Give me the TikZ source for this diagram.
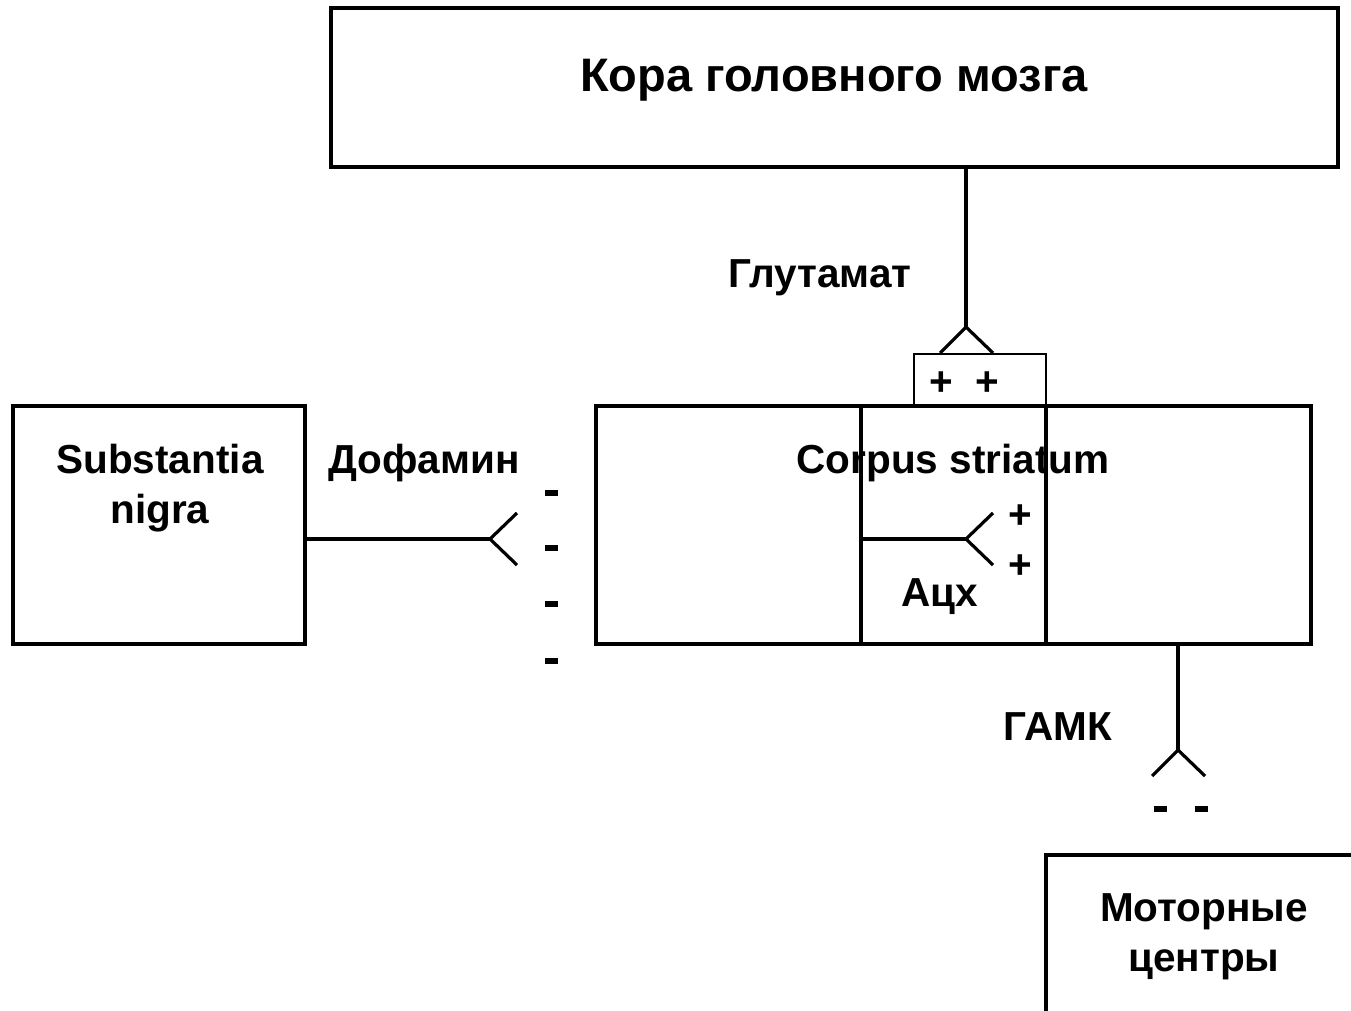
\documentclass[tikz,border=0pt]{standalone}
\usepackage{fontspec}
\setmainfont{Liberation Sans}
\usetikzlibrary{positioning}

\newcommand{\minusbar}{\rule{13pt}{6.5pt}}

\begin{document}
\begin{tikzpicture}[x=1pt,y=-1pt,
  box/.style={draw, line width=3.5pt, inner sep=0pt},
  lbl/.style={font=\bfseries\fontsize{40.5}{50}\selectfont, inner sep=0pt, align=center},
  sign/.style={font=\bfseries\fontsize{40.5}{48}\selectfont, inner sep=0pt},
  wire/.style={line width=3.2pt}]
\useasboundingbox (0,0) rectangle (1351,1010);

%% boxes
\node[box, minimum width=1007pt, minimum height=159pt] (cortex) at (834.5,87.5) {};
\node[box, minimum width=715pt, minimum height=238pt] (striatum) at (953.5,525) {};
\node[box, minimum width=292pt, minimum height=238pt] (nigra) at (159,525) {};
\node[draw, line width=2pt, inner sep=0pt, minimum width=132pt, minimum height=51pt] (recbox) at (980,379.5) {};
\draw[box] (1046,1012) -- (1046,855) -- (1353,855);
\draw[box] (861,406) -- (861,644);
\draw[box] (1046,406) -- (1046,644);

%% labels
\node[lbl, font=\bfseries\fontsize{47}{56}\selectfont] (cortexlbl) at (834,80) {Кора головного мозга};
\node[lbl] (striatumlbl) at (953,463) {Corpus striatum};
\node[lbl] (nigralbl) at (160,488) {Substantia\\nigra};
\node[lbl] (motorlbl) at (1204,937) {Моторные\\центры};
\node[lbl] (glulbl) at (820,278) {Глутамат};
\node[lbl] (dalbl) at (424,463) {Дофамин};
\node[lbl] (achlbl) at (940,597) {Ацх};
\node[lbl] (gabalbl) at (1058,727) {ГАМК};

%% synapses
\coordinate (glufork) at (966,327);
\draw[wire] (cortex.south -| glufork) -- (glufork);
\draw[wire] (glufork) ++(-26,26) -- (glufork) -- ++(27,26);

\coordinate (dafork) at (490,539);
\draw[wire] (nigra.east |- dafork) -- (dafork);
\draw[wire] (dafork) ++(27,-26) -- (dafork) -- ++(27,26);

\coordinate (achfork) at (966,539);
\draw[wire] (861,539) -- (achfork);
\draw[wire] (achfork) ++(27,-26) -- (achfork) -- ++(27,26);

\coordinate (gabafork) at (1178,750);
\draw[wire] (striatum.south -| gabafork) -- (gabafork);
\draw[wire] (gabafork) ++(-26,26) -- (gabafork) -- ++(27,26);

%% signs
\node[sign] (p1) at (941,384) {+};
\node[sign] (p2) at (987,384) {+};
\node[sign] (p3) at (1020,517) {+};
\node[sign] (p4) at (1020,567) {+};
\foreach \y [count=\i] in {493,548,604,661}
  \node[sign] (m\i) at (551,\y) {\minusbar};
\node[sign] (m5) at (1160,809) {\minusbar};
\node[sign] (m6) at (1201,809) {\minusbar};

\end{tikzpicture}
\end{document}
